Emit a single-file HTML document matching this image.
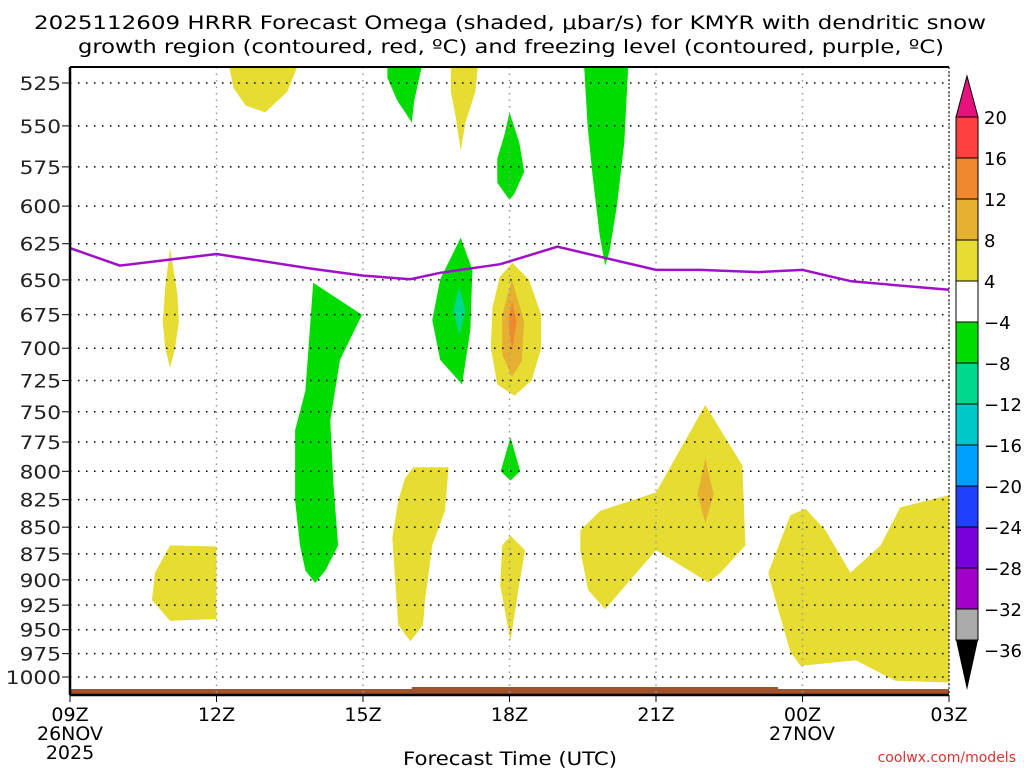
<!DOCTYPE html>
<html><head><meta charset="utf-8"><style>
html,body{margin:0;padding:0;background:#fff;}
svg{display:block;font-family:"DejaVu Sans","Liberation Sans",sans-serif;}
</style></head><body>
<svg id="chart" width="1024" height="768" viewBox="0 0 1024 768">
<text x="34" y="29" font-size="19" textLength="952" lengthAdjust="spacingAndGlyphs" fill="#000">2025112609 HRRR Forecast Omega (shaded, μbar/s) for KMYR with dendritic snow</text>
<text x="78" y="53" font-size="19" textLength="866" lengthAdjust="spacingAndGlyphs" fill="#000">growth region (contoured, red, ºC) and freezing level (contoured, purple, ºC)</text>
<g id="shapes"></g>
<g id="grid"></g>
<g id="frz"></g>
<g id="axes"></g>
<g id="cbar"></g>
<text x="403" y="765" font-size="19" textLength="214" lengthAdjust="spacingAndGlyphs">Forecast Time (UTC)</text>
<text x="1016" y="762" font-size="14" text-anchor="end" fill="#e03030">coolwx.com/models</text>
</svg>
<script>
const pressureTicks=[525,550,575,600,625,650,675,700,725,750,775,800,825,850,875,900,925,950,975,1000];
const timeTickHours=[0,3,6,9,12,15,18];
const timeTickLabels=["09Z","12Z","15Z","18Z","21Z","00Z","03Z"];
const freezingHours=[0,1.02,3.0,4.92,6.0,6.97,7.58,8.81,9.98,12.0,12.9,14.1,15.0,16.0,18.0];
const freezingLevel=[628,640,632,642,647,649.5,645,639,627,643,643,644.5,643,651,657];
const cbarLabels=["20","16","12","8","4","−4","−8","−12","−16","−20","−24","−28","−32","−36"];
const cbarColors=["#ff4040","#f08830","#e6b030","#e6dc32","#ffffff","#00dc00","#00d88c","#00c8c8","#00a0ff","#2040ff","#7800dc","#a000c8","#aaaaaa"];
const yellowAreas=[
[[3.26,516],[4.65,516],[4.45,530],[4.0,542],[3.6,538],[3.35,528]],
[[7.8,516],[8.35,516],[8.3,530],[8.1,548],[8.0,565],[7.9,545],[7.8,530]],
[[2.05,628],[2.2,660],[2.23,680],[2.15,700],[2.05,715],[1.95,700],[1.9,680],[1.95,655]],
[[9.06,638],[9.4,650],[9.65,675],[9.65,700],[9.45,725],[9.1,737],[8.75,728],[8.62,700],[8.65,670],[8.8,648]],
[[7.03,796.5],[7.75,796.5],[7.68,835],[7.42,867],[7.27,920],[7.23,945],[6.97,962],[6.72,945],[6.6,860],[6.72,826],[6.86,806]],
[[9.02,858],[9.32,871.5],[9.18,910],[9.02,962],[8.81,905],[8.85,867]],
[[10.45,853],[10.86,835],[12.0,818.5],[13.01,744.5],[13.77,795],[13.83,867],[13.32,893],[13.07,902.5],[12.0,871.5],[10.96,929],[10.61,910],[10.45,871.5]],
[[14.3,893],[14.75,839],[15.06,833],[15.47,853],[15.98,893],[16.6,867],[17.0,832],[18,821],[18,1006],[16.9,1004],[16.09,982],[14.96,988],[14.75,973],[14.45,920]],
[[2.05,867],[3.0,868],[3.0,939],[2.05,941],[1.68,920],[1.74,893]]
];
const orangeAreas=[
[[9.05,650],[9.3,680],[9.25,710],[9.05,722],[8.85,705],[8.85,675]],
[[13.01,789],[13.18,820],[13.01,846],[12.85,820]]
];
const darkOrangeAreas=[[[9.05,665],[9.15,680],[9.05,702],[8.98,680]]];
const greenAreas=[
[[6.5,516],[7.2,516],[7.05,535],[7.0,548],[6.7,535],[6.5,522]],
[[9.0,542],[9.2,560],[9.3,578],[9.1,592],[9.0,596],[8.75,585],[8.75,570],[8.9,555]],
[[10.53,516],[11.43,516],[11.35,560],[11.2,600],[11.05,630],[10.96,640],[10.85,620],[10.7,580],[10.6,550]],
[[4.98,652],[5.98,675],[5.53,709],[5.33,757],[5.39,808],[5.49,867],[5.23,891],[5.02,903],[4.82,891],[4.71,867],[4.61,826],[4.61,765],[4.82,733]],
[[8.0,621],[8.24,643],[8.2,686],[8.03,728],[7.58,709],[7.42,679],[7.58,649.5]],
[[9.02,771],[9.22,800],[9.02,808],[8.82,800]]
];
const tealAreas=[[[7.97,655],[8.1,672],[7.97,690],[7.85,672]]];

const X0=70,X1=949,Y0=67,Y1=695;
const lnTop=Math.log(525)-16/921, lnBot=Math.log(1000)+18/921;
function xs(h){return X0+h*(X1-X0)/18;}
function ys(p){return Y0+(Math.log(p)-lnTop)/(lnBot-lnTop)*(Y1-Y0);}
const NS="http://www.w3.org/2000/svg";
function mk(tag,parent,attrs){const e=document.createElementNS(NS,tag);for(const k in attrs)e.setAttribute(k,attrs[k]);parent.appendChild(e);return e;}
const gS=document.getElementById('shapes');
function drawAreas(list,color,name){list.forEach(a=>{const pg=mk('polygon',gS,{points:a.map(q=>xs(q[0]).toFixed(1)+','+ys(q[1]).toFixed(1)).join(' '),fill:color});

});}
drawAreas(yellowAreas,"#e6dc32","omega-4-8-area");
drawAreas(orangeAreas,"#e6b030","omega-8-12-area");
drawAreas(darkOrangeAreas,"#f08830","omega-12-16-area");
drawAreas(greenAreas,"#00dc00","omega-neg4-neg8-area");
drawAreas(tealAreas,"#00d88c","omega-neg8-neg12-area");
const gr=mk('rect',gS,{x:X0,y:689,width:X1-X0,height:6,fill:"#a0522d"});


const gr2=mk('rect',gS,{x:xs(7),y:687,width:xs(14.5)-xs(7),height:3,fill:"#a0522d"});



const gG=document.getElementById('grid');
pressureTicks.forEach(p=>{const l=mk('line',gG,{x1:X0,x2:X1,y1:ys(p),y2:ys(p),stroke:"#000","stroke-width":1.5,"stroke-dasharray":"1.5 6.5"});

});
timeTickHours.forEach(h=>{const l=mk('line',gG,{x1:xs(h),x2:xs(h),y1:Y0,y2:Y1,stroke:"#999","stroke-width":1.5,"stroke-dasharray":"1.5 5"});

});

const gF=document.getElementById('frz');
const fl=mk('polyline',gF,{points:freezingHours.map((h,i)=>xs(h).toFixed(1)+','+ys(freezingLevel[i]).toFixed(1)).join(' '),fill:"none",stroke:"#a010c8","stroke-width":2.5});



const gA=document.getElementById('axes');
mk('line',gA,{x1:X0,x2:X1,y1:Y0,y2:Y0,stroke:"#000","stroke-width":2});
mk('line',gA,{x1:X0,x2:X0,y1:Y0,y2:Y1,stroke:"#000","stroke-width":2.5});
mk('line',gA,{x1:X0,x2:X1,y1:Y1,y2:Y1,stroke:"#000","stroke-width":2.5});
mk('line',gA,{x1:X1,x2:X1,y1:Y0,y2:Y1,stroke:"#000","stroke-width":1,"stroke-dasharray":"2 2"});
pressureTicks.forEach(p=>{mk('line',gA,{x1:X0-8,x2:X0,y1:ys(p),y2:ys(p),stroke:"#000","stroke-width":1});
const t=mk('text',gA,{x:X0-9,y:ys(p)+7,"font-size":19,"text-anchor":"end",fill:"#222",textLength:(String(p).length*13.8),lengthAdjust:"spacingAndGlyphs"});t.textContent=p;

});
timeTickHours.forEach((h,i)=>{mk('line',gA,{x1:xs(h),x2:xs(h),y1:Y1,y2:Y1+7,stroke:"#000","stroke-width":1});
const t=mk('text',gA,{x:xs(h),y:721,"font-size":19,"text-anchor":"middle"});t.textContent=timeTickLabels[i];

});
[["26NOV",70,740],["2025",70,759],["27NOV",802,740]].forEach(d=>{const t=mk('text',gA,{x:d[1],y:d[2],"font-size":19,"text-anchor":"middle"});t.textContent=d[0];

});

const gC=document.getElementById('cbar');
const CX=956,CW=22,CT=117,CH=41;
mk('polygon',gC,{points:`${CX},${CT} ${CX+CW},${CT} ${CX+CW/2},76`,fill:"#e8127f",stroke:"#000","stroke-width":1});
cbarColors.forEach((c,i)=>{const r=mk('rect',gC,{x:CX,y:CT+i*CH,width:CW,height:(i==cbarColors.length-1?31:CH),fill:c,stroke:"#000","stroke-width":1});

});
const cb=CT+12*CH+31;
mk('polygon',gC,{points:`${CX},${cb} ${CX+CW},${cb} ${CX+CW/2},690`,fill:"#000"});
cbarLabels.forEach((l,i)=>{const yy=i<13?CT+i*CH:cb+10;const t=mk('text',gC,{x:984,y:yy+7,"font-size":18});t.textContent=l;

});
</script>
</body></html>
